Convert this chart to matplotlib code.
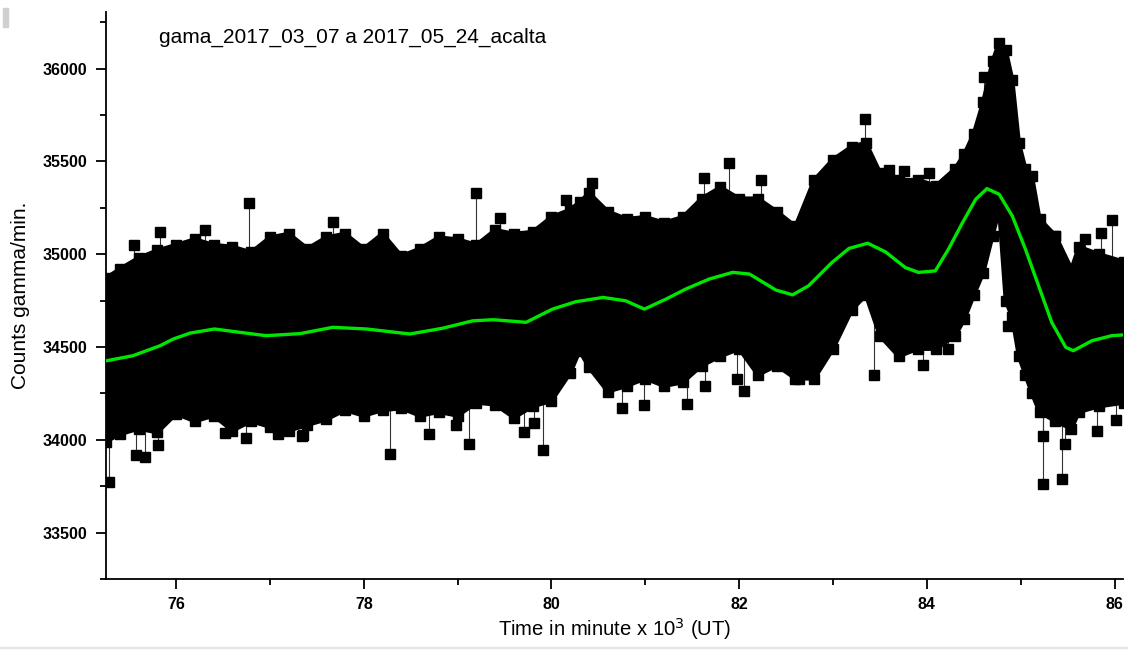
import numpy as np
import matplotlib
matplotlib.use("Agg")
import matplotlib.pyplot as plt
from matplotlib.patches import Rectangle

plt.rcParams['font.family'] = ['Liberation Sans', 'DejaVu Sans']

# smoothed trend (green), time in minutes x 10^3
trend_x = [75.26, 75.54, 75.83, 75.97, 76.15, 76.41, 76.68, 76.96, 77.32, 77.67,
           78.03, 78.49, 78.84, 79.16, 79.38, 79.73, 80.01, 80.26, 80.55, 80.79,
           80.99, 81.22, 81.43, 81.68, 81.93, 82.11, 82.39, 82.57, 82.74, 82.99,
           83.17, 83.37, 83.56, 83.77, 83.91, 84.09, 84.23, 84.38, 84.52, 84.64,
           84.77, 84.91, 85.05, 85.19, 85.33, 85.48, 85.56, 85.76, 85.97, 86.09]
trend_y = [34426, 34453, 34507, 34543, 34575, 34597, 34579, 34561, 34572, 34606,
           34597, 34570, 34601, 34641, 34647, 34633, 34704, 34744, 34767, 34749,
           34704, 34758, 34812, 34866, 34902, 34893, 34807, 34781, 34830, 34956,
           35031, 35059, 35012, 34928, 34902, 34910, 35027, 35170, 35296, 35353,
           35323, 35206, 35027, 34830, 34633, 34498, 34480, 34534, 34561, 34565]

# envelope of the dense cloud of counts
env_x = [75.25, 75.4, 75.6, 75.8, 76.0, 76.2, 76.4, 76.6, 76.8, 77.0,
         77.2, 77.4, 77.6, 77.8, 78.0, 78.2, 78.4, 78.6, 78.8, 79.0,
         79.2, 79.4, 79.6, 79.8, 80.0, 80.2, 80.3, 80.4, 80.6, 80.8,
         81.0, 81.2, 81.4, 81.6, 81.8, 82.0, 82.2, 82.4, 82.6, 82.8,
         83.0, 83.2, 83.35, 83.5, 83.7, 83.9, 84.1, 84.3, 84.4, 84.5,
         84.6, 84.7, 84.77, 84.84, 84.91, 84.98, 85.05, 85.12, 85.2, 85.37,
         85.54, 85.62, 85.83, 86.1]
env_top = [34870, 34920, 34980, 35020, 35050, 35080, 35050, 35040, 35010, 35090,
           35110, 35030, 35090, 35110, 35030, 35110, 34990, 35030, 35090, 35080,
           35050, 35130, 35110, 35120, 35200, 35240, 35280, 35330, 35230, 35190,
           35200, 35170, 35200, 35300, 35360, 35300, 35300, 35230, 35150, 35400,
           35510, 35580, 35600, 35440, 35400, 35400, 35370, 35460, 35540, 35650,
           35820, 36040, 36140, 36100, 35940, 35600, 35460, 35420, 35190, 35100,
           34920, 35040, 35000, 34960]
env_bot = [33990, 34030, 34060, 34040, 34140, 34100, 34130, 34050, 34100, 34070,
           34050, 34080, 34110, 34160, 34130, 34160, 34170, 34130, 34150, 34130,
           34200, 34190, 34120, 34180, 34210, 34360, 34480, 34390, 34260, 34290,
           34330, 34290, 34310, 34400, 34450, 34490, 34350, 34400, 34330, 34330,
           34490, 34700, 34780, 34560, 34450, 34490, 34490, 34560, 34650, 34780,
           34900, 35100, 35240, 34750, 34660, 34450, 34350, 34250, 34150, 34100,
           34060, 34150, 34180, 34200]

# isolated points outside the cloud
out_x = [76.78, 75.55, 75.83, 76.31, 79.20, 77.67, 79.45, 80.43, 80.15, 81.62,
         81.89, 82.23, 83.34, 83.60, 83.76, 84.61, 84.02, 85.97, 85.69, 85.86,
         85.37,
         75.28, 75.57, 75.67, 75.81, 76.52, 76.74, 77.09, 77.34, 78.28, 78.70,
         78.98, 79.12, 77.35, 79.91, 79.71, 79.81, 80.75, 80.99, 81.44, 81.64,
         82.05, 81.98, 83.44, 82.64, 83.96, 84.22, 84.86, 85.24, 85.44, 85.24,
         85.47, 85.81, 86.02]
out_y = [35278, 35048, 35120, 35131, 35332, 35174, 35194, 35386, 35290, 35412,
         35493, 35400, 35730, 35453, 35448, 35953, 35439, 35184, 35081, 35115,
         35098,
         33773, 33920, 33907, 33973, 34036, 34009, 34029, 34020, 33925, 34032,
         34081, 33979, 34026, 33943, 34041, 34092, 34171, 34188, 34194, 34292,
         34265, 34328, 34351, 34328, 34405, 34489, 34611, 33764, 33790, 34023,
         33975, 34047, 34109]

fig = plt.figure(figsize=(11.28, 6.51), dpi=100)
ax = fig.add_axes([0.0937, 0.1106, 0.9019, 0.871])

ax.fill_between(env_x, env_bot, env_top, color='black', lw=0, zorder=2)
ax.plot(env_x, env_top, '-s', color='black', ms=6.5, lw=3, zorder=3)
ax.plot(env_x, env_bot, '-s', color='black', ms=6.5, lw=3, zorder=3)

ox = np.array(out_x)
oy = np.array(out_y)
base = np.interp(ox, trend_x, trend_y)
ax.vlines(ox, base, oy, color='#333333', lw=0.8, zorder=1)
ax.plot(ox, oy, 's', color='black', ms=6.5, zorder=3)

ax.plot(trend_x, trend_y, color='#00e600', lw=2.4, zorder=4)

ax.set_xlim(75.25, 86.09)
ax.set_ylim(33255, 36305)
ax.set_xticks([76, 78, 80, 82, 84, 86])
ax.set_xticks([77, 79, 81, 83, 85], minor=True)
ax.set_yticks([33500, 34000, 34500, 35000, 35500, 36000])
ax.set_yticks([33250, 33750, 34250, 34750, 35250, 35750, 36250], minor=True)
ax.spines['top'].set_visible(False)
ax.spines['right'].set_visible(False)
ax.spines['left'].set_linewidth(1.3)
ax.spines['bottom'].set_linewidth(1.3)
ax.tick_params(which='major', length=7, width=1.3, direction='out')
ax.tick_params(which='minor', length=4, width=1.3, direction='out')
ax.tick_params(axis='y', pad=6)
ax.tick_params(axis='x', pad=6)
for lab in ax.get_xticklabels() + ax.get_yticklabels():
    lab.set_fontweight('bold')
    lab.set_fontsize(11.5)

ax.set_xlabel('Time in minute x 10$^3$ (UT)', fontsize=14.6, labelpad=3)
ax.set_ylabel('Counts gamma/min.', fontsize=15)
ax.yaxis.set_label_coords(-0.074, 0.5)
ax.text(0.052, 0.955, 'gama_2017_03_07 a 2017_05_24_acalta', transform=ax.transAxes,
        fontsize=15, ha='left', va='center')

fig.patches.append(Rectangle((3 / 1128, 1 - 27 / 651), 5 / 1128, 19 / 651,
                             transform=fig.transFigure, color='#d0d0d0'))
fig.patches.append(Rectangle((0, 3 / 651), 1, 1.5 / 651,
                             transform=fig.transFigure, color='#e6e6e6'))

fig.savefig('out.png', dpi=100)
